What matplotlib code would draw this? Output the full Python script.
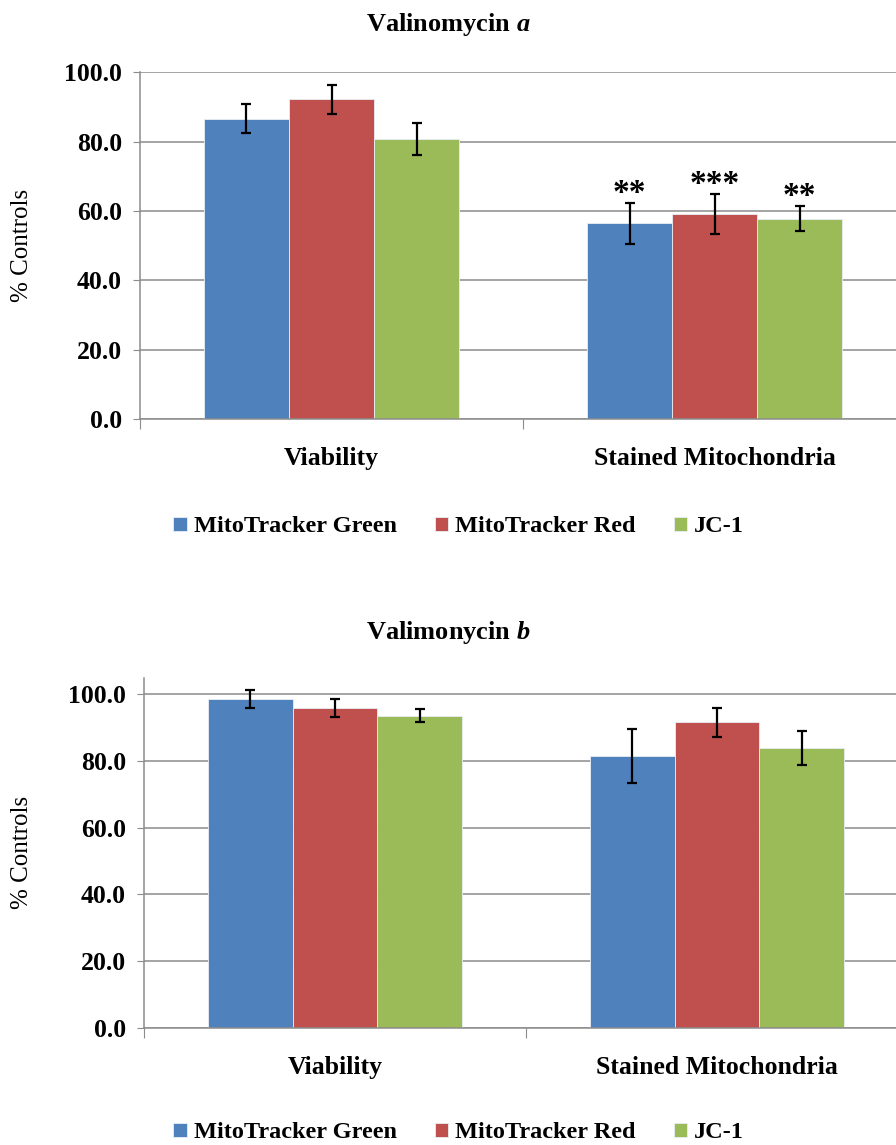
import matplotlib
matplotlib.use("Agg")
import matplotlib.pyplot as plt
import numpy as np

plt.rcParams['font.family'] = 'Liberation Serif'
plt.rcParams['mathtext.fontset'] = 'custom'
plt.rcParams['mathtext.it'] = 'Liberation Serif:bold:italic'
plt.rcParams['mathtext.rm'] = 'Liberation Serif:bold'

categories = ["Viability", "Stained Mitochondria"]
series = ["MitoTracker Green", "MitoTracker Red", "JC-1"]
colors = ["#4F81BD", "#C0504D", "#9BBB59"]

# Valinomycin a
vals_a = [[86.6, 56.4], [92.2, 59.2], [80.7, 57.8]]
err_a = [[4.2, 5.8], [4.2, 5.8], [4.5, 3.7]]
stars_a = [["", "**"], ["", "***"], ["", "**"]]

# Valimonycin b
vals_b = [[98.6, 81.6], [95.9, 91.6], [93.6, 84.0]]
err_b = [[2.6, 8.1], [2.6, 4.3], [2.0, 5.1]]


def panel(ax, vals, errs, ymax, stars=None, xlab=-0.14):
    x = np.arange(len(categories))
    w = 0.222
    for i, nom in enumerate(series):
        pos = x + (i - 1) * w
        ax.bar(pos, vals[i], w, color=colors[i], label=nom, zorder=2,
               edgecolor="#e8eef5", linewidth=0.6)
        ax.errorbar(pos, vals[i], yerr=errs[i], fmt="none", ecolor="black",
                    elinewidth=1.6, capsize=3.5, capthick=1.6, zorder=3)
        if stars:
            for j in range(len(categories)):
                if stars[i][j]:
                    ax.text(pos[j], vals[i][j] + errs[i][j] + 0.3, stars[i][j],
                            ha="center", va="baseline", fontsize=24,
                            fontweight="bold")
    ax.set_xlim(-0.5, 1.5)
    ax.set_ylim(0, ymax)
    ax.set_yticks(np.arange(0, 101, 20))
    ax.set_yticklabels(["%.1f" % v for v in np.arange(0, 101, 20)],
                       fontsize=18.5, fontweight="bold")
    ax.set_xticks([-0.5, 0.5, 1.5])
    ax.set_xticklabels([])
    ax.set_xticks(x, minor=True)
    ax.set_xticklabels(categories, minor=True, fontsize=18.5, fontweight="bold")
    ax.tick_params(axis="x", which="minor", length=0, pad=20)
    ax.tick_params(axis="x", which="major", length=7, color="#8c8c8c",
                   direction="out")
    ax.tick_params(axis="y", length=5, color="#8c8c8c", pad=8)
    ax.yaxis.grid(True, color="#8c8c8c", linewidth=1.1, zorder=0)
    ax.set_axisbelow(True)
    for s in ["top", "right"]:
        ax.spines[s].set_visible(False)
    for s in ["left", "bottom"]:
        ax.spines[s].set_color("#8c8c8c")
        ax.spines[s].set_linewidth(1.1)
    ax.set_ylabel("% Controls", fontsize=18)
    ax.yaxis.set_label_coords(xlab, 0.5)


fig = plt.figure(figsize=(8.96, 11.45), dpi=100)
ax1 = fig.add_axes([0.15625, 0.634, 0.855, 0.303])
ax2 = fig.add_axes([0.1607, 0.1024, 0.8527, 0.3057])

panel(ax1, vals_a, err_a, 100, stars_a, xlab=-0.14)
panel(ax2, vals_b, err_b, 105, xlab=-0.145)

fig.text(0.5, 1 - 25 / 1145, "Valinomycin $a$", ha="center", va="center",
         fontsize=19, fontweight="bold")
fig.text(0.5, 1 - 632 / 1145, "Valimonycin $b$", ha="center", va="center",
         fontsize=19, fontweight="bold")

for ax, y in [(ax1, 1 - 527 / 1145), (ax2, 1 - 1133 / 1145)]:
    h, l = ax.get_legend_handles_labels()
    fig.legend(h, l, loc="center", bbox_to_anchor=(0.512, y), ncol=3,
               frameon=False, handlelength=0.55, handleheight=0.55,
               handletextpad=0.3, columnspacing=1.55,
               prop={"size": 17.5, "weight": "bold"})

fig.savefig("out.png", dpi=100)
